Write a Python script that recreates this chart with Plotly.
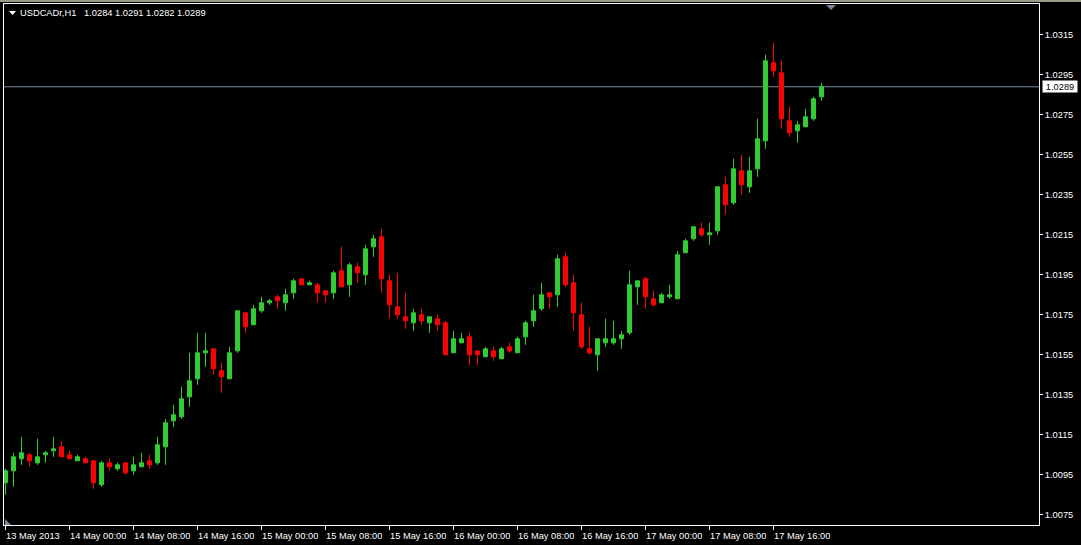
import pandas as pd
import plotly.graph_objects as go

symbol = "USDCADr,H1"
times = pd.date_range("2013-05-13 16:00", periods=103, freq="h")

opens = [1.0091, 1.0097, 1.0103, 1.0105, 1.0101, 1.0105, 1.0107, 1.0109, 1.0105, 1.0102,
         1.0103, 1.0102, 1.0090, 1.0101, 1.0098, 1.0101, 1.0097, 1.0099, 1.0102, 1.0101,
         1.0109, 1.0122, 1.0124, 1.0134, 1.0143, 1.0156, 1.0158, 1.0147, 1.0143, 1.0157,
         1.0176, 1.0170, 1.0177, 1.0181, 1.0184, 1.0181, 1.0186, 1.0193, 1.0190, 1.0190,
         1.0187, 1.0186, 1.0197, 1.0190, 1.0199, 1.0195, 1.0209, 1.0214, 1.0192, 1.0179,
         1.0174, 1.0171, 1.0175, 1.0171, 1.0173, 1.0171, 1.0156, 1.0161, 1.0164, 1.0157,
         1.0154, 1.0157, 1.0153, 1.0159, 1.0156, 1.0164, 1.0172, 1.0178, 1.0186, 1.0185,
         1.0204, 1.0191, 1.0175, 1.0158, 1.0155, 1.0161, 1.0161, 1.0163, 1.0166, 1.0189,
         1.0193, 1.0183, 1.0181, 1.0184, 1.0183, 1.0206, 1.0213, 1.0218, 1.0215, 1.0217,
         1.0240, 1.0231, 1.0247, 1.0239, 1.0248, 1.0262, 1.0301, 1.0296, 1.0272, 1.0267,
         1.0269, 1.0273, 1.0284]
highs = [1.0098, 1.0106, 1.0114, 1.0106, 1.0113, 1.0107, 1.0114, 1.0112, 1.0107, 1.0105,
         1.0104, 1.0102, 1.0102, 1.0103, 1.0101, 1.0101, 1.0104, 1.0106, 1.0105, 1.0114,
         1.0123, 1.0130, 1.0139, 1.0156, 1.0166, 1.0166, 1.0158, 1.0151, 1.0159, 1.0177,
         1.0176, 1.0180, 1.0184, 1.0183, 1.0185, 1.0188, 1.0193, 1.0193, 1.0192, 1.0191,
         1.0187, 1.0197, 1.0209, 1.0201, 1.0201, 1.0210, 1.0215, 1.0218, 1.0195, 1.0196,
         1.0186, 1.0178, 1.0178, 1.0174, 1.0175, 1.0172, 1.0167, 1.0166, 1.0166, 1.0157,
         1.0159, 1.0159, 1.0159, 1.0161, 1.0164, 1.0172, 1.0185, 1.0191, 1.0186, 1.0205,
         1.0206, 1.0195, 1.0181, 1.0169, 1.0163, 1.0173, 1.0172, 1.0167, 1.0197, 1.0192,
         1.0194, 1.0187, 1.0186, 1.0190, 1.0207, 1.0213, 1.0219, 1.0221, 1.0221, 1.0239,
         1.0244, 1.0253, 1.0255, 1.0254, 1.0273, 1.0305, 1.0311, 1.0302, 1.0279, 1.0272,
         1.0278, 1.0284, 1.0291]
lows = [1.0085, 1.0089, 1.0100, 1.0099, 1.0100, 1.0101, 1.0104, 1.0104, 1.0103, 1.0102,
        1.0101, 1.0088, 1.0089, 1.0097, 1.0097, 1.0095, 1.0095, 1.0099, 1.0098, 1.0100,
        1.0100, 1.0119, 1.0123, 1.0129, 1.0140, 1.0149, 1.0145, 1.0136, 1.0143, 1.0156,
        1.0166, 1.0170, 1.0176, 1.0180, 1.0178, 1.0177, 1.0183, 1.0190, 1.0190, 1.0181,
        1.0181, 1.0183, 1.0189, 1.0184, 1.0191, 1.0190, 1.0204, 1.0186, 1.0173, 1.0173,
        1.0168, 1.0167, 1.0170, 1.0166, 1.0167, 1.0155, 1.0156, 1.0161, 1.0150, 1.0150,
        1.0154, 1.0152, 1.0153, 1.0156, 1.0156, 1.0160, 1.0169, 1.0177, 1.0178, 1.0179,
        1.0189, 1.0167, 1.0158, 1.0155, 1.0147, 1.0159, 1.0160, 1.0158, 1.0165, 1.0180,
        1.0178, 1.0179, 1.0181, 1.0183, 1.0183, 1.0206, 1.0212, 1.0214, 1.0210, 1.0215,
        1.0225, 1.0230, 1.0235, 1.0236, 1.0244, 1.0258, 1.0294, 1.0268, 1.0264, 1.0261,
        1.0269, 1.0272, 1.0282]
closes = [1.0097, 1.0104, 1.0106, 1.0102, 1.0104, 1.0106, 1.0108, 1.0104, 1.0103, 1.0104,
          1.0101, 1.0091, 1.0101, 1.0099, 1.0100, 1.0096, 1.0100, 1.0101, 1.0100, 1.0110,
          1.0121, 1.0125, 1.0133, 1.0142, 1.0156, 1.0157, 1.0148, 1.0144, 1.0156, 1.0177,
          1.0169, 1.0178, 1.0181, 1.0182, 1.0182, 1.0185, 1.0192, 1.0190, 1.0191, 1.0186,
          1.0185, 1.0196, 1.0189, 1.0200, 1.0196, 1.0208, 1.0213, 1.0193, 1.0180, 1.0175,
          1.0172, 1.0176, 1.0172, 1.0174, 1.0170, 1.0155, 1.0163, 1.0163, 1.0155, 1.0155,
          1.0158, 1.0154, 1.0158, 1.0157, 1.0163, 1.0171, 1.0177, 1.0185, 1.0184, 1.0203,
          1.0190, 1.0176, 1.0159, 1.0156, 1.0163, 1.0163, 1.0163, 1.0165, 1.0190, 1.0192,
          1.0184, 1.0180, 1.0185, 1.0185, 1.0205, 1.0212, 1.0219, 1.0215, 1.0216, 1.0239,
          1.0230, 1.0248, 1.0240, 1.0247, 1.0263, 1.0302, 1.0297, 1.0273, 1.0266, 1.0270,
          1.0274, 1.0283, 1.0289]

x_tick_index = [0, 8, 16, 24, 32, 40, 48, 56, 64, 72, 80, 88, 96]
x_tick_labels = ["13 May 2013", "14 May 00:00", "14 May 08:00", "14 May 16:00",
                 "15 May 00:00", "15 May 08:00", "15 May 16:00", "16 May 00:00",
                 "16 May 08:00", "16 May 16:00", "17 May 00:00", "17 May 08:00",
                 "17 May 16:00"]
y_tick_values = [1.0075, 1.0095, 1.0115, 1.0135, 1.0155, 1.0175, 1.0195,
                 1.0215, 1.0235, 1.0255, 1.0275, 1.0295, 1.0315]

# ---- layout geometry (pixels) ----
W, H = 1081, 545
PL, PR, PT, PB = 4, 1039, 4, 525
PW, PH = PR - PL, PB - PT
FONT = "Liberation Sans, Arial, sans-serif"
FS = 9.3
UP, DOWN, SLATE = "#32CD32", "#FF0000", "#778899"


def px(xp):
    return (xp - PL) / PW


def py(yp):
    return (PB - yp) / PH


hour = pd.Timedelta(hours=1)
x_range = [times[0] - 0.1875 * hour, times[0] + 129.1875 * hour]
y_range = [1.00699, 1.03304]

fig = go.Figure()
fig.add_trace(go.Candlestick(
    x=times, open=opens, high=highs, low=lows, close=closes,
    increasing=dict(line=dict(color=UP, width=1), fillcolor=UP),
    decreasing=dict(line=dict(color=DOWN, width=1), fillcolor=DOWN),
    whiskerwidth=0, showlegend=False, hoverinfo="skip",
))

tick_times = [times[i] for i in x_tick_index]

annotations = []
for t, lab in zip(tick_times, x_tick_labels):
    annotations.append(dict(
        x=t, xref="x", y=py(535.5), yref="paper", text=lab, showarrow=False,
        xanchor="left", yanchor="middle", xshift=-1, borderpad=0,
        font=dict(family=FONT, size=FS, color="white")))

last = len(closes) - 1
header = (f"{symbol}\u00a0\u00a0\u00a0{opens[last]:.4f} {highs[last]:.4f} "
          f"{lows[last]:.4f} {closes[last]:.4f}")
annotations.append(dict(
    x=px(19), xref="paper", y=py(13), yref="paper", text=header, showarrow=False,
    xanchor="left", yanchor="middle", borderpad=0,
    font=dict(family=FONT, size=FS, color="white")))

annotations.append(dict(
    x=px(1042), xref="paper", y=closes[last], yref="y", text=f"{closes[last]:.4f}",
    showarrow=False, xanchor="left", yanchor="middle", bgcolor="white",
    width=34, height=11, borderpad=0, align="center",
    font=dict(family=FONT, size=FS, color="black")))

shapes = [
    # window top border
    dict(type="rect", xref="paper", yref="paper", x0=px(0), x1=px(W), y0=py(0), y1=py(2),
         fillcolor="#9a9a8a", line=dict(width=0), layer="above"),
    # bid line
    dict(type="line", xref="paper", yref="y", x0=0, x1=1, y0=closes[last], y1=closes[last],
         line=dict(color=SLATE, width=1), layer="below"),
    # chart shift marker
    dict(type="path", xref="paper", yref="paper",
         path=f"M {px(826)} {py(5)} L {px(836)} {py(5)} L {px(831)} {py(10)} Z",
         fillcolor=SLATE, line=dict(width=0)),
    # header triangle
    dict(type="path", xref="paper", yref="paper",
         path=f"M {px(9)} {py(11)} L {px(16)} {py(11)} L {px(12.5)} {py(15)} Z",
         fillcolor="white", line=dict(width=0)),
    # bottom-left marker
    dict(type="path", xref="paper", yref="paper",
         path=f"M {px(5)} {py(519)} L {px(5)} {py(525)} L {px(11)} {py(525)} Z",
         fillcolor=SLATE, line=dict(width=0)),
]

fig.update_layout(
    width=W, height=H,
    margin=dict(l=PL, r=W - PR, t=PT, b=H - PB, pad=0),
    paper_bgcolor="black", plot_bgcolor="black",
    boxgap=0.5, boxgroupgap=0,
    showlegend=False,
    annotations=annotations,
    shapes=shapes,
    font=dict(family=FONT, size=FS, color="white"),
    xaxis=dict(
        type="date", range=x_range, rangeslider=dict(visible=False),
        showgrid=False, zeroline=False, showline=True, mirror=True,
        linecolor="white", linewidth=1,
        tickmode="array", tickvals=tick_times, ticks="outside", ticklen=4,
        tickcolor="white", tickwidth=1, showticklabels=False, fixedrange=True,
    ),
    yaxis=dict(
        side="right", range=y_range, showgrid=False, zeroline=False,
        showline=True, mirror=True, linecolor="white", linewidth=1,
        tickmode="array", tickvals=y_tick_values,
        ticktext=[f"{v:.4f}" for v in y_tick_values],
        ticks="outside", ticklen=3, tickcolor="white", tickwidth=1,
        tickfont=dict(family=FONT, size=FS, color="white"), fixedrange=True,
    ),
)

fig.write_html("out.html", config={"displayModeBar": False})

# remove the browser's default page margin so the figure sits at the window origin
with open("out.html", encoding="utf-8") as fh:
    page = fh.read()
page = page.replace("<body>", "<body style=\"margin:0;padding:0;background:black;overflow:hidden\">", 1)
with open("out.html", "w", encoding="utf-8") as fh:
    fh.write(page)
